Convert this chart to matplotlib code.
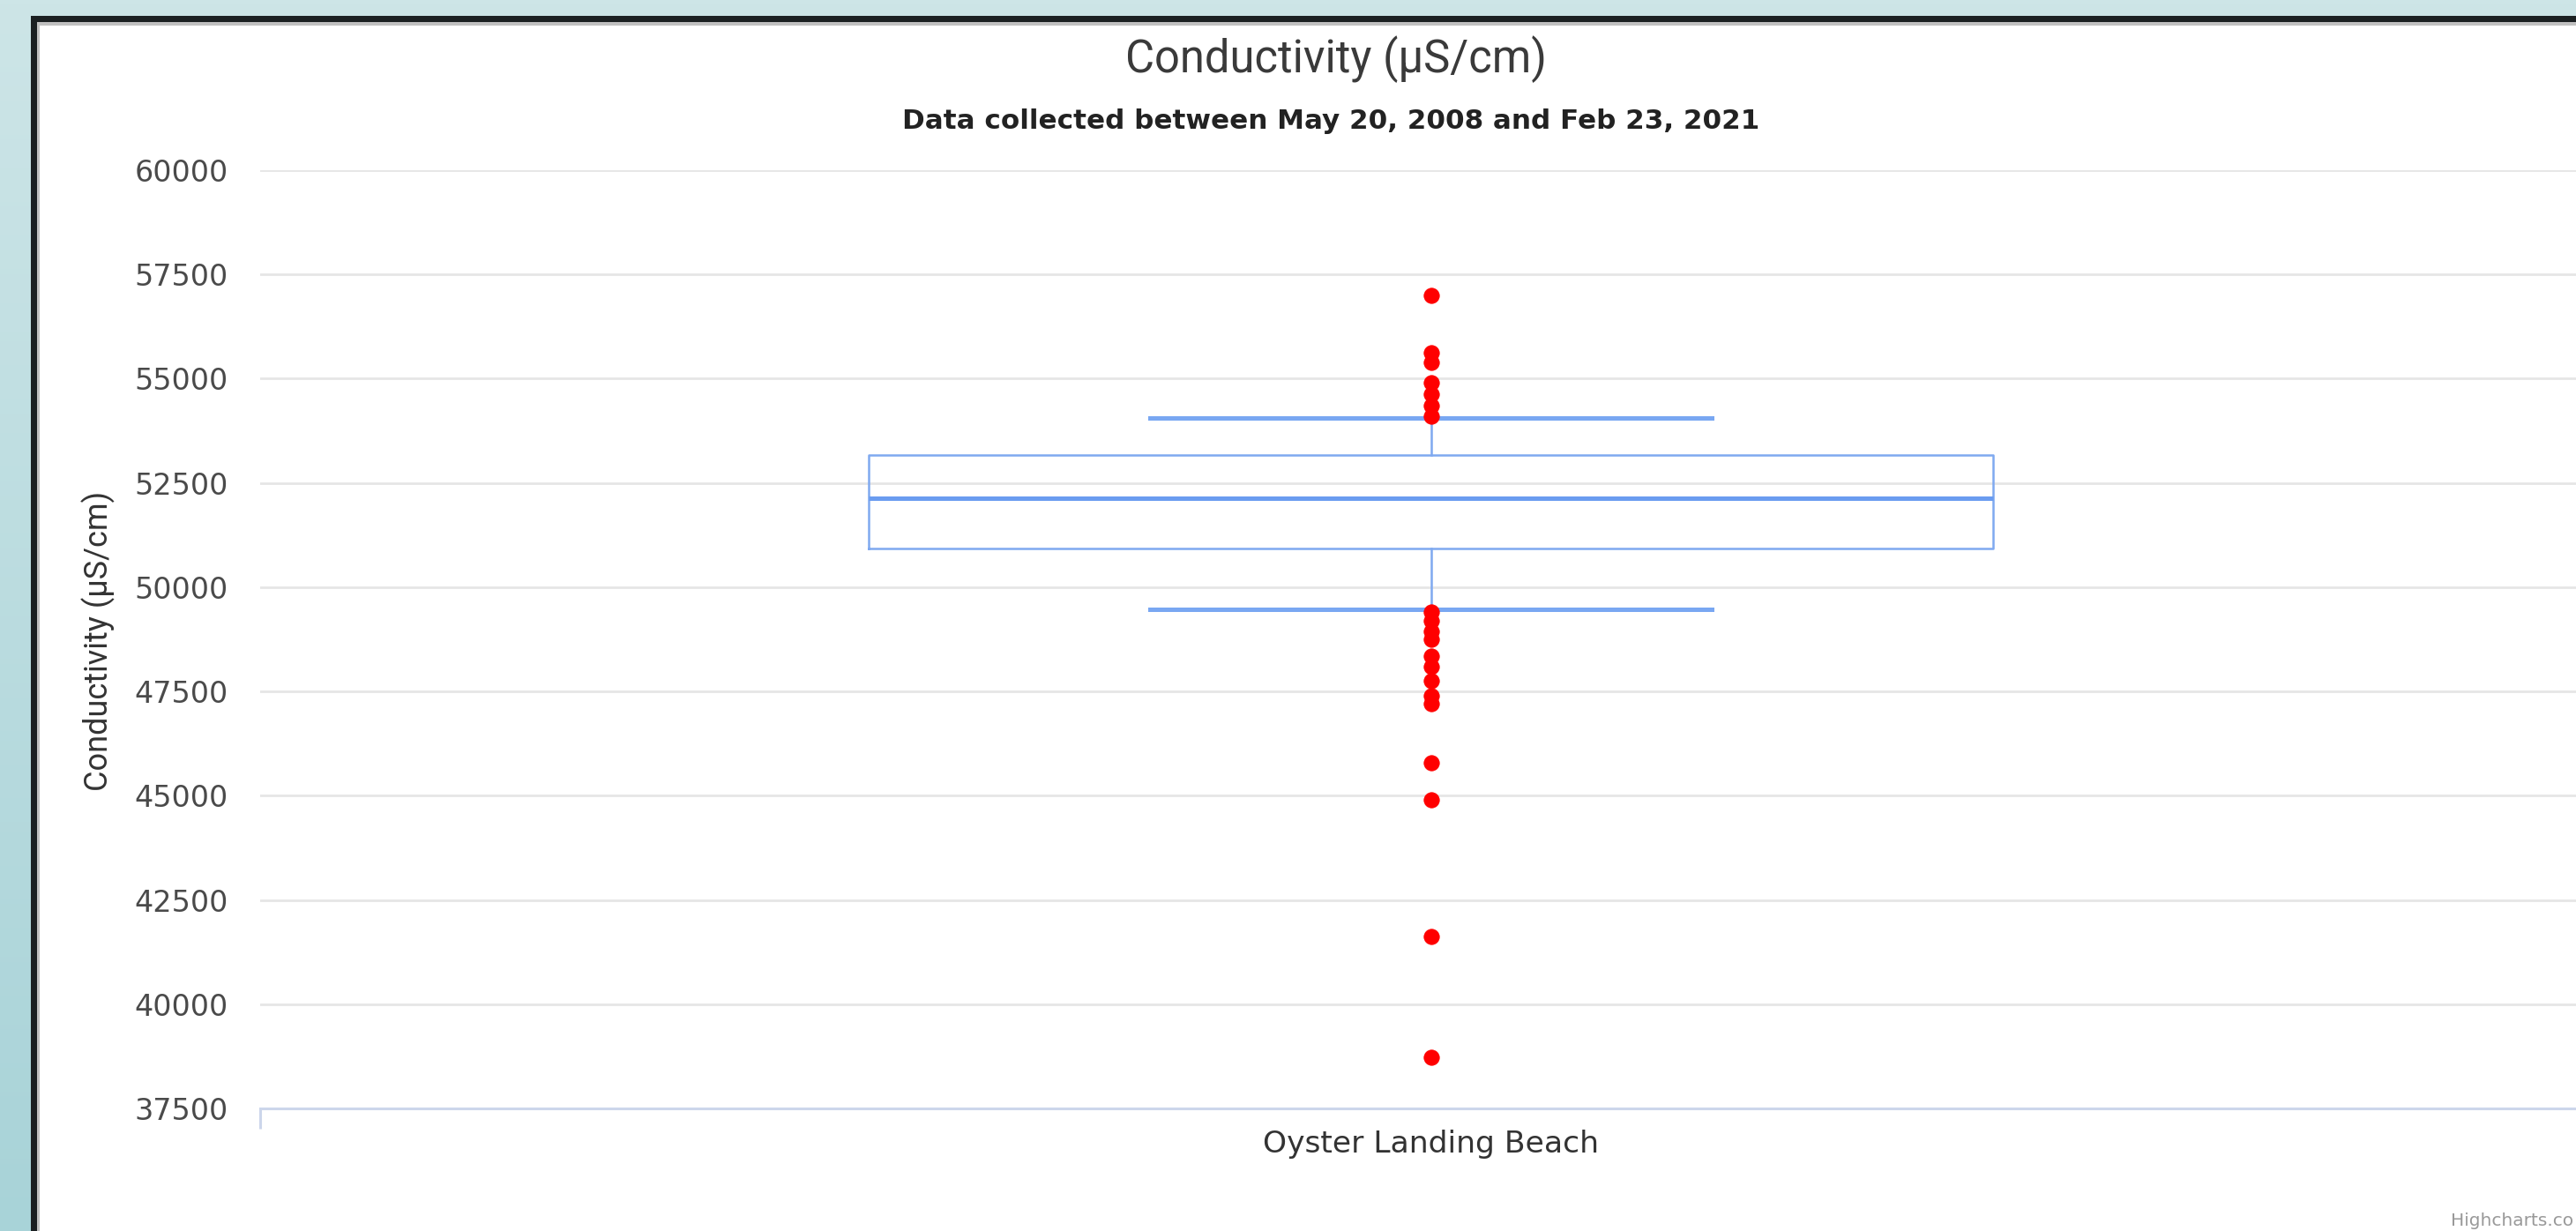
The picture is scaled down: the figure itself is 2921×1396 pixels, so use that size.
import numpy as np
import matplotlib
matplotlib.use("Agg")
import matplotlib.pyplot as plt
from matplotlib.patches import Rectangle
from matplotlib.colors import LinearSegmentedColormap

# ---------------- data ----------------
categories = ["Oyster Landing Beach"]
q1 = [50930]
median = [52140]
q3 = [53160]
whisker_low = [49470]
whisker_high = [54050]
outliers_high = [57000, 55620, 55380, 54900, 54620, 54350, 54110]
outliers_low = [49400, 49200, 48950, 48750, 48350, 48100, 47750, 47400, 47200,
                45800, 44900, 41620, 38720]
y_ticks = [37500, 40000, 42500, 45000, 47500, 50000, 52500, 55000, 57500, 60000]

title = "Conductivity (µS/cm)"
subtitle = "Data collected between May 20, 2008 and Feb 23, 2021"
y_label = "Conductivity (µS/cm)"
credit = "Highcharts.co"

W, H = 2921, 1396
fig = plt.figure(figsize=(W / 100, H / 100), dpi=100)

# background gradient (teal)
bg = fig.add_axes([0, 0, 1, 1], zorder=-10)
cmap = LinearSegmentedColormap.from_list("teal", ["#a8d3d8", "#cde5e7"])
grad = np.linspace(0, 1, 256).reshape(-1, 1)
bg.imshow(grad, aspect="auto", cmap=cmap, extent=[0, 1, 0, 1], origin="lower")
bg.set_axis_off()

# frame
def rect(x0, ytop, color):
    fig.patches.append(Rectangle((x0 / W, 0), 1.0, (H - ytop) / H,
                                 transform=fig.transFigure, facecolor=color,
                                 edgecolor="none", zorder=-5))
rect(35, 18, "#1b2022")
rect(42, 25, "#c0c0c0")
rect(45, 29, "#ffffff")

# main axes
left_px, right_px = 295, 2921
top_px, bot_px = 193, 1257
ax = fig.add_axes([left_px / W, 1 - bot_px / H, (right_px - left_px) / W,
                   (bot_px - top_px) / H])
ax.set_facecolor("none")

stats = []
for i, cat in enumerate(categories):
    stats.append(dict(label=cat, med=median[i], q1=q1[i], q3=q3[i],
                      whislo=whisker_low[i], whishi=whisker_high[i],
                      fliers=outliers_high + outliers_low))

box_col = "#7fa9f0"
ax.bxp(stats, positions=[0], widths=[0.480], capwidths=[0.24],
       showfliers=True,
       boxprops=dict(color=box_col, linewidth=1.8),
       medianprops=dict(color="#6a9cf0", linewidth=3.6),
       whiskerprops=dict(color=box_col, linewidth=1.8),
       capprops=dict(color="#79a7f2", linewidth=3.6),
       flierprops=dict(marker="o", markerfacecolor="#ff0000",
                       markeredgecolor="#ff0000", markersize=12.5,
                       markeredgewidth=0.6))

ax.set_xlim(-0.5, -0.5 + (right_px - left_px) / 2655)
ax.set_ylim(37500, 60000)
ax.set_yticks(y_ticks)
ax.set_yticklabels([str(v) for v in y_ticks])
ax.yaxis.grid(True, color="#e6e6e6", linewidth=2.0)
ax.set_axisbelow(True)

for s in ["top", "right", "left"]:
    ax.spines[s].set_visible(False)
ax.spines["bottom"].set_color("#ccd6eb")
ax.spines["bottom"].set_linewidth(2.2)

ax.set_xticks([0])
ax.set_xticklabels(categories)
ax.set_xticks([-0.5], minor=True)
ax.tick_params(axis="x", which="major", length=0, pad=17, labelsize=24.8,
               labelcolor="#333333")
ax.tick_params(axis="x", which="minor", length=16.5, width=2.2,
               color="#ccd6eb", direction="out")
ax.tick_params(axis="y", length=0, pad=26, labelsize=24,
               labelcolor="#4a4a4a")
for t in ax.get_yticklabels() + ax.get_xticklabels():
    t.set_fontfamily("DejaVu Sans")

fig.text(1515 / W, 1 - 67 / H, title, ha="center", va="center",
         fontsize=36.5, color="#3a3a3a", family="Roboto")
fig.text(1509 / W, 1 - 138 / H, subtitle, ha="center", va="center",
         fontsize=22.3, color="#222222", family="DejaVu Sans", weight="bold")
fig.text(112 / W, 1 - 727 / H, y_label, ha="center", va="center",
         rotation=90, fontsize=26, color="#333333", family="Roboto")
fig.text(2918 / W, 1 - 1384 / H, credit, ha="right", va="center",
         fontsize=14.5, color="#999999", family="DejaVu Sans")

fig.savefig("out.png", dpi=100)
